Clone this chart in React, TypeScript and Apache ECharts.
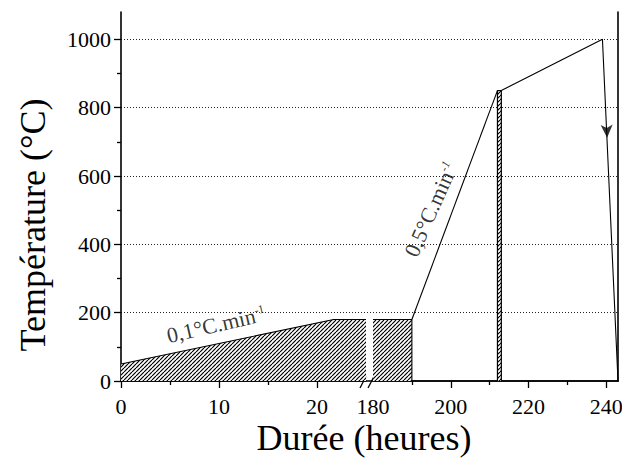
import React, { useEffect, useRef } from "react";
import * as echarts from "echarts";

const FONT = "'Liberation Serif', 'Times New Roman', serif";

// First axis segment (hours 0-25): 0.1 °C/min heating up to the 180 °C plateau
const earlyTime = [0, 21.7, 25];
const earlyTemp = [50, 180, 180];
// Second axis segment: end of the 180 °C plateau
const plateauTime = [180, 190, 190];
const plateauTemp = [180, 180, 0];
// 0.5 °C/min ramp
const rampTime = [190, 212];
const rampTemp = [180, 850];
// short hold at 850 °C
const holdTime = [212, 212, 213, 213];
const holdTemp = [0, 850, 850, 0];
// slow ramp to 1000 °C, then cooling
const finalTime = [213, 239, 243];
const finalTemp = [850, 1000, 0];

// Axis ticks
const xTicksEarly = [0, 10, 20];
const xMinorEarly = [5, 15];
const xLabelsLate = [180, 200, 220, 240];
const xTicksLate = [200, 220, 240];
const xMinorLate = [190, 210, 230];
const yTicks = [0, 200, 400, 600, 800, 1000];
const yMinor = [100, 300, 500, 700, 900];

// Rate annotations [time, temperature]
const slowRateAt = [9.7, 165];
const fastRateAt = [194.9, 502];
// Cooling arrow on the last segment
const coolingArrowAt = [240.2, 712];

const pts = (xs: number[], ys: number[]) => xs.map((x, i) => [x, ys[i]]);

function hatchPattern() {
  const c = document.createElement("canvas");
  c.width = 4;
  c.height = 4;
  const ctx = c.getContext("2d")!;
  ctx.fillStyle = "#fff";
  ctx.fillRect(0, 0, 4, 4);
  ctx.strokeStyle = "#000";
  ctx.lineWidth = 1.2;
  for (const k of [-4, 0, 4]) {
    ctx.beginPath();
    ctx.moveTo(k, 4);
    ctx.lineTo(k + 4, 0);
    ctx.stroke();
  }
  return { image: c, repeat: "repeat", imageWidth: 4, imageHeight: 4 };
}

const axisLine = { show: true, lineStyle: { color: "#000", width: 1.6 } };
const tickLabel = { fontFamily: FONT, fontSize: 22, color: "#000", formatter: (v: number) => String(v) };
const noBorder = { textBorderWidth: 0, textBorderColor: "transparent" };

export default function App() {
  const ref = useRef<HTMLDivElement>(null);

  useEffect(() => {
    const chart = echarts.init(ref.current!, null, { renderer: "svg" });
    const hatch = hatchPattern();
    const lineStyle = { color: "#000", width: 1.1 };
    const plotTop = 12;
    const plotH = 369;

    const option: any = {
      animation: false,
      backgroundColor: "#fff",
      textStyle: { fontFamily: FONT },
      grid: [
        { left: 121, top: plotTop, width: 497, height: plotH, outerBoundsMode: "none" },
        { left: 121, top: plotTop, width: 245, height: plotH, outerBoundsMode: "none" },
        { left: 373, top: plotTop, width: 245, height: plotH, outerBoundsMode: "none" },
      ],
      xAxis: [
        // frame top
        {
          gridIndex: 0, type: "value", min: 0, max: 1, position: "top",
          axisLine, axisTick: { show: false }, axisLabel: { show: false }, splitLine: { show: false },
        },
        // early segment
        {
          gridIndex: 1, type: "value", min: 0, max: 25, interval: 5, position: "bottom",
          axisLine,
          axisTick: { show: true, customValues: xTicksEarly, length: 7, lineStyle: { color: "#000", width: 1.3 } },
          axisLabel: { ...tickLabel, customValues: xTicksEarly, margin: 14 },
          splitLine: { show: false },
        },
        {
          gridIndex: 1, type: "value", min: 0, max: 25, interval: 5, position: "bottom",
          axisLine: { show: false },
          axisTick: { show: true, customValues: xMinorEarly, length: 4, lineStyle: { color: "#000", width: 1.3 } },
          axisLabel: { show: false }, splitLine: { show: false },
        },
        // late segment
        {
          gridIndex: 2, type: "value", min: 180, max: 243, interval: 10, position: "bottom",
          axisLine,
          axisTick: { show: true, customValues: xTicksLate, length: 7, lineStyle: { color: "#000", width: 1.3 } },
          axisLabel: { ...tickLabel, customValues: xLabelsLate, margin: 14 },
          splitLine: { show: false },
        },
        {
          gridIndex: 2, type: "value", min: 180, max: 243, interval: 10, position: "bottom",
          axisLine: { show: false },
          axisTick: { show: true, customValues: xMinorLate, length: 4, lineStyle: { color: "#000", width: 1.3 } },
          axisLabel: { show: false }, splitLine: { show: false },
        },
      ],
      yAxis: [
        {
          gridIndex: 0, type: "value", min: 0, max: 1080, interval: 200, position: "left",
          axisLine,
          axisTick: { show: true, customValues: yTicks, length: 7, lineStyle: { color: "#000", width: 1.3 } },
          axisLabel: { ...tickLabel, customValues: yTicks, margin: 10 },
          splitLine: {
            show: true, showMinLine: false, showMaxLine: true,
            lineStyle: { color: "#222", width: 1, type: [1, 2] },
          },
        },
        {
          gridIndex: 0, type: "value", min: 0, max: 1080, interval: 200, position: "left",
          axisLine: { show: false },
          axisTick: { show: true, customValues: yMinor, length: 4, lineStyle: { color: "#000", width: 1.3 } },
          axisLabel: { show: false }, splitLine: { show: false },
        },
        {
          gridIndex: 0, type: "value", min: 0, max: 1080, interval: 200, position: "right",
          axisLine, axisTick: { show: false }, axisLabel: { show: false }, splitLine: { show: false },
        },
        { gridIndex: 1, type: "value", min: 0, max: 1080, show: false },
        { gridIndex: 2, type: "value", min: 0, max: 1080, show: false },
      ],
      series: [
        {
          type: "line", xAxisIndex: 1, yAxisIndex: 3, data: pts(earlyTime, earlyTemp),
          symbol: "none", lineStyle, areaStyle: { color: hatch, opacity: 1 }, z: 3,
        },
        {
          type: "line", xAxisIndex: 3, yAxisIndex: 4, data: pts(plateauTime, plateauTemp),
          symbol: "none", lineStyle, areaStyle: { color: hatch, opacity: 1 }, z: 3,
        },
        {
          type: "line", xAxisIndex: 3, yAxisIndex: 4, data: pts(rampTime, rampTemp),
          symbol: "none", lineStyle, z: 3,
        },
        {
          type: "line", xAxisIndex: 3, yAxisIndex: 4, data: pts(holdTime, holdTemp),
          symbol: "none", lineStyle: { color: "#000", width: 1.2 }, areaStyle: { color: hatch, opacity: 1 }, z: 3,
        },
        {
          type: "line", xAxisIndex: 3, yAxisIndex: 4, data: pts(finalTime, finalTemp),
          symbol: "none", lineStyle, z: 3,
        },
        {
          type: "scatter", xAxisIndex: 1, yAxisIndex: 3, data: [slowRateAt],
          symbolSize: 1, itemStyle: { color: "rgba(0,0,0,0)" }, z: 4,
          label: {
            show: true, position: "inside", rotate: 13, color: "#000", ...noBorder,
            formatter: "{a|0,1°C.min}{b|-1}",
            rich: {
              a: { fontFamily: FONT, fontSize: 22, color: "#000", ...noBorder },
              b: { fontFamily: FONT, fontSize: 12, color: "#000", verticalAlign: "top", ...noBorder },
            },
          },
        },
        {
          type: "scatter", xAxisIndex: 3, yAxisIndex: 4, data: [fastRateAt],
          symbolSize: 1, itemStyle: { color: "rgba(0,0,0,0)" }, z: 4,
          label: {
            show: true, position: "inside", rotate: 66, color: "#000", ...noBorder,
            formatter: "{a|0,5°C.min}{b|-1}",
            rich: {
              a: { fontFamily: FONT, fontSize: 22, color: "#000", ...noBorder },
              b: { fontFamily: FONT, fontSize: 12, color: "#000", verticalAlign: "top", fontStyle: "italic", ...noBorder },
            },
          },
        },
        {
          type: "scatter", xAxisIndex: 3, yAxisIndex: 4, data: [coolingArrowAt],
          symbol: "arrow", symbolSize: [9, 13], symbolRotate: 182,
          itemStyle: { color: "#000" }, z: 5,
        },
      ],
      graphic: [
        {
          type: "text", x: 364, y: 438,
          style: { text: "Durée (heures)", fontFamily: FONT, fontSize: 36, fill: "#000", align: "center", verticalAlign: "middle" },
        },
        {
          type: "text", x: 33, y: 225, rotation: Math.PI / 2,
          style: { text: "Température (°C)", fontFamily: FONT, fontSize: 36, fill: "#000", align: "center", verticalAlign: "middle" },
        },
        // axis break marks
        { type: "line", shape: { x1: 360, y1: 388, x2: 366, y2: 376.5 }, style: { stroke: "#000", lineWidth: 1.3 } },
        { type: "line", shape: { x1: 368, y1: 388, x2: 374, y2: 376.5 }, style: { stroke: "#000", lineWidth: 1.3 } },
      ],
    };

    chart.setOption(option);
    return () => chart.dispose();
  }, []);

  return (
    <div
      ref={ref}
      style={{ position: "absolute", left: 0, top: 0, width: 622, height: 462, background: "#fff" }}
    />
  );
}
